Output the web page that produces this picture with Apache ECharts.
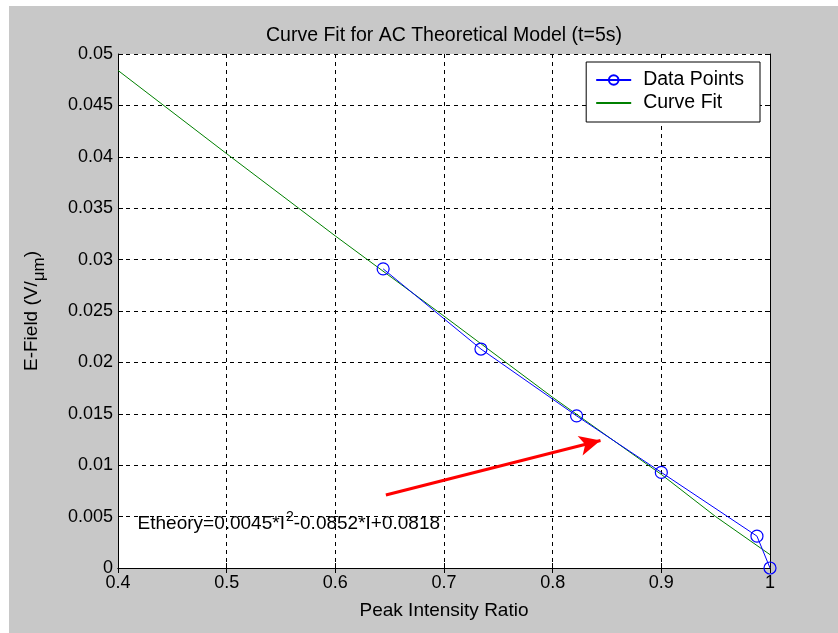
<!DOCTYPE html>
<html>
<head>
<meta charset="utf-8">
<title>Curve Fit for AC Theoretical Model</title>
<script src="https://cdn.jsdelivr.net/npm/echarts@6/dist/echarts.min.js"></script>
<style>
  html, body { margin: 0; padding: 0; background: #ffffff; }
  #frame { position: absolute; left: 9px; top: 6px; right: 0; bottom: 0; background: #c8c8c8; }
  #chart { position: absolute; left: 0; top: 0; width: 838px; height: 633px; }
</style>
</head>
<body>
<div id="frame"></div>
<div id="chart"></div>
<script>
// measured points (peak intensity ratio, E-field)
var dataX = [0.644, 0.734, 0.822, 0.900, 0.988, 1.000];
var dataY = [0.0291, 0.0213, 0.0148, 0.0093, 0.0031, 0.0];

// fitted curve
var fitX = [0.40, 0.50, 0.60, 0.70, 0.80, 0.90, 0.95, 1.00];
var fitY = [0.0484, 0.0403, 0.0323, 0.0245, 0.0166, 0.0091, 0.0050, 0.0013];

// red arrow (tail, head) and equation anchor, in data units
var arrowTail = [0.6465, 0.0071];
var arrowHead = [0.8440, 0.0124];
var eqAnchor = [0.418, 0.0046];

function zip(xs, ys) {
  return xs.map(function (x, i) { return [x, ys[i]]; });
}

var font = 'Liberation Sans, Arial, sans-serif';
var chart = echarts.init(document.getElementById('chart'));

// top / right axes only close the box and carry ticks
var boxAxis = {
  axisLine: { show: true, lineStyle: { color: '#000', width: 1 } },
  axisTick: { show: true, inside: true, length: 5, lineStyle: { color: '#000' } },
  axisLabel: { show: false },
  splitLine: { show: false }
};

var option = {
  backgroundColor: 'transparent',
  animation: false,
  textStyle: { fontFamily: font },
  title: {
    text: 'Curve Fit for AC Theoretical Model (t=5s)',
    left: 439,
    top: 21,
    textAlign: 'center',
    textStyle: { fontFamily: font, fontSize: 19.5, fontWeight: 'normal', color: '#000' }
  },
  legend: {
    right: 78,
    top: 62,
    orient: 'vertical',
    itemWidth: 35,
    itemHeight: 12,
    itemGap: 3,
    padding: [8, 16, 9, 9],
    backgroundColor: '#fff',
    borderColor: '#000',
    borderWidth: 1,
    borderRadius: 0,
    textStyle: { fontFamily: font, fontSize: 19.5, color: '#000', padding: [0, 0, 0, 7] },
    data: ['Data Points', { name: 'Curve Fit', itemStyle: { opacity: 0 } }]
  },
  grid: {
    left: 118,
    right: 68,
    top: 54,
    bottom: 65,
    show: true,
    backgroundColor: '#fff',
    borderWidth: 0
  },
  xAxis: [{
    type: 'value',
    min: 0.4,
    max: 1,
    interval: 0.1,
    position: 'bottom',
    name: 'Peak Intensity Ratio',
    nameLocation: 'middle',
    nameGap: 33,
    nameTextStyle: { fontFamily: font, fontSize: 19, color: '#000' },
    axisLine: { show: true, lineStyle: { color: '#000', width: 1 } },
    axisTick: { show: true, inside: true, length: 5, lineStyle: { color: '#000' } },
    axisLabel: { color: '#000', fontSize: 18, fontFamily: font, margin: 6 },
    splitLine: { show: true, lineStyle: { color: '#000', type: [4, 4], width: 1 } }
  }, Object.assign({ type: 'value', min: 0.4, max: 1, interval: 0.1, position: 'top' }, boxAxis)],
  yAxis: [{
    type: 'value',
    min: 0,
    max: 0.05,
    interval: 0.005,
    position: 'left',
    name: '{a|E-Field (V/}{b|μm}{a|)}',
    nameLocation: 'middle',
    nameGap: 70,
    nameTextStyle: {
      fontFamily: font,
      color: '#000',
      rich: {
        a: { fontSize: 19, fontFamily: font, color: '#000', lineHeight: 26, verticalAlign: 'top' },
        b: { fontSize: 17, fontFamily: font, color: '#000', lineHeight: 26, verticalAlign: 'bottom' }
      }
    },
    axisLine: { show: true, lineStyle: { color: '#000', width: 1 } },
    axisTick: { show: true, inside: true, length: 5, lineStyle: { color: '#000' } },
    axisLabel: { color: '#000', fontSize: 18, fontFamily: font, margin: 5 },
    splitLine: { show: true, lineStyle: { color: '#000', type: [4, 4], width: 1 } }
  }, Object.assign({ type: 'value', min: 0, max: 0.05, interval: 0.005, position: 'right' }, boxAxis)],
  series: [
    {
      name: 'Curve Fit',
      type: 'line',
      data: zip(fitX, fitY),
      showSymbol: false,
      symbol: 'none',
      lineStyle: { color: '#008000', width: 1 },
      itemStyle: { color: '#008000' },
      z: 3
    },
    {
      name: 'Data Points',
      type: 'line',
      data: zip(dataX, dataY),
      symbol: 'circle',
      symbolSize: 12,
      showSymbol: true,
      lineStyle: { color: '#0000ff', width: 1 },
      itemStyle: { color: 'transparent', borderColor: '#0000ff', borderWidth: 1.2 },
      z: 4,
      markLine: {
        silent: true,
        symbol: ['none', 'arrow'],
        symbolSize: [15, 21],
        label: { show: false },
        lineStyle: { color: '#ff0000', width: 3, type: 'solid' },
        itemStyle: { color: '#ff0000' },
        data: [[{ coord: arrowTail }, { coord: arrowHead }]]
      }
    },
    {
      name: 'equation',
      type: 'scatter',
      data: [eqAnchor],
      symbolSize: 0,
      silent: true,
      z: 5,
      itemStyle: { opacity: 1 },
      label: {
        show: true,
        position: 'right',
        distance: 0,
        color: '#000',
        formatter: '{a|Etheory=0.0045*I}{s|2}{a|-0.0852*I+0.0818}',
        rich: {
          a: { fontSize: 19, fontFamily: font, color: '#000', lineHeight: 26, verticalAlign: 'bottom' },
          s: { fontSize: 14, fontFamily: font, color: '#000', lineHeight: 26, verticalAlign: 'top', padding: [2, 0, 0, 1] }
        }
      }
    }
  ]
};

chart.setOption(option);
window.onresize = function () { chart.resize(); };
</script>
</body>
</html>
